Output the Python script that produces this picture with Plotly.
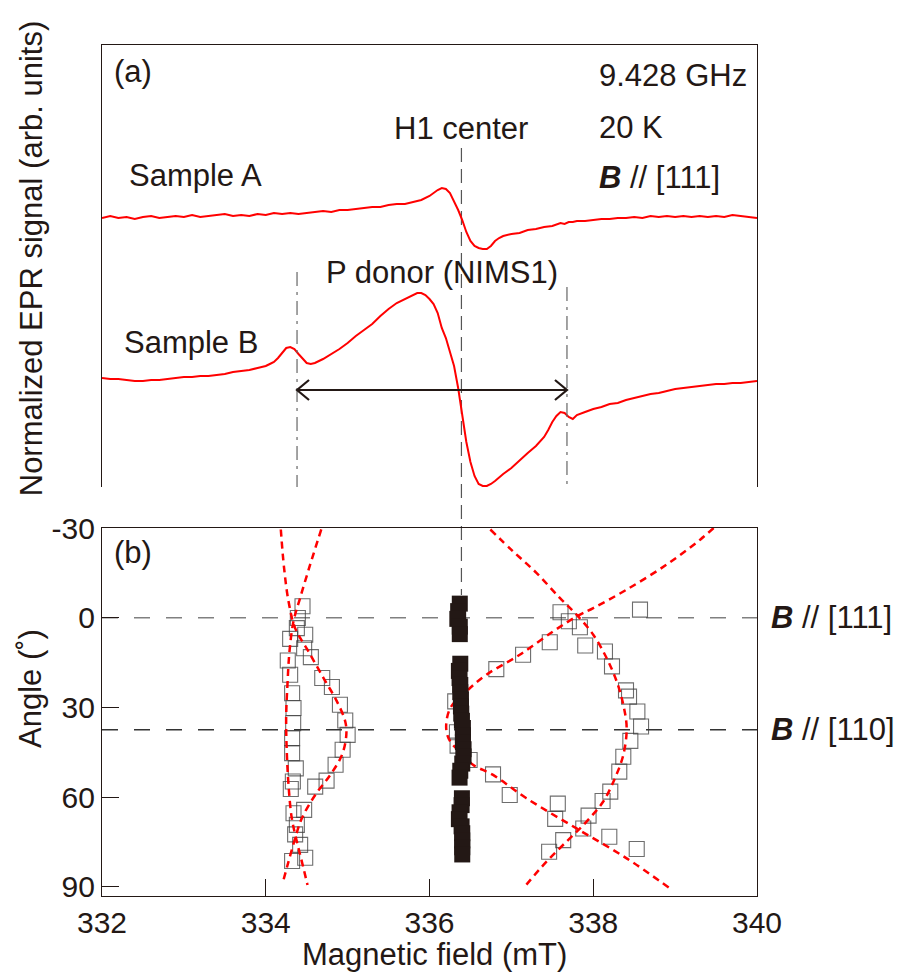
import plotly.graph_objects as go

# ---------------- DATA ----------------
# Panel (a): EPR spectra (field in mT, signal in arb. units incl. vertical offset)
field_A = [332.0, 332.1, 332.2, 332.3, 332.4, 332.5, 332.6, 332.7, 332.8, 332.9,
           333.0, 333.1, 333.2, 333.3, 333.4, 333.5, 333.6, 333.7, 333.8, 333.9,
           334.0, 334.1, 334.2, 334.3, 334.4, 334.5, 334.6, 334.7, 334.8, 334.9,
           335.0, 335.1, 335.2, 335.3, 335.4, 335.5, 335.6, 335.7, 335.8, 335.9,
           336.0, 336.05, 336.1, 336.15, 336.2, 336.25, 336.3, 336.35, 336.4, 336.45,
           336.5, 336.55, 336.6, 336.65, 336.7, 336.75, 336.8, 336.85, 336.9,
           337.0, 337.1, 337.2, 337.3, 337.4, 337.5, 337.6, 337.65, 337.7, 337.75, 337.8, 337.9,
           338.0, 338.1, 338.2, 338.3, 338.4, 338.5, 338.6, 338.7, 338.8, 338.9,
           339.0, 339.1, 339.2, 339.3, 339.4, 339.5, 339.6, 339.7, 339.8, 339.9, 340.0]
signal_A = [26.9, 27.1, 26.9, 27.0, 26.8, 27.0, 27.1, 26.9, 27.0, 27.1,
            27.0, 27.2, 27.0, 27.1, 27.2, 27.3, 27.1, 27.2, 27.1, 27.3,
            27.2, 27.4, 27.3, 27.4, 27.3, 27.4, 27.5, 27.6, 27.5, 27.7,
            27.7, 27.8, 27.9, 28.0, 28.0, 28.2, 28.3, 28.3, 28.5, 28.7,
            29.1, 29.4, 29.7, 29.9, 29.8, 29.4, 28.6, 27.7, 26.7, 25.5,
            24.6, 24.1, 23.9, 23.8, 23.8, 24.1, 24.6, 24.9, 25.1,
            25.3, 25.4, 25.7, 25.8, 26.0, 26.1, 26.4, 26.3, 26.5, 26.5, 26.6, 26.6,
            26.7, 26.8, 26.8, 26.9, 26.9, 27.0, 26.9, 27.1, 27.0, 27.1,
            27.0, 27.1, 27.0, 27.1, 27.0, 27.1, 27.0, 27.2, 27.1, 27.0, 26.9]

field_B = [332.0, 332.1, 332.2, 332.3, 332.4, 332.5, 332.6, 332.7, 332.8, 332.9,
           333.0, 333.1, 333.2, 333.3, 333.4, 333.5, 333.6, 333.7, 333.8, 333.9,
           334.0, 334.05, 334.1, 334.15, 334.2, 334.25, 334.3, 334.35, 334.4, 334.45,
           334.5, 334.55, 334.6,
           334.7, 334.8, 334.9, 335.0, 335.1, 335.2, 335.3, 335.4, 335.5, 335.6, 335.7, 335.8,
           335.85, 335.9, 335.95,
           336.0, 336.05, 336.1, 336.15, 336.2, 336.25, 336.3, 336.35, 336.4, 336.45,
           336.5, 336.55, 336.6, 336.65, 336.7, 336.75, 336.8, 336.85, 336.9,
           337.0, 337.1, 337.2, 337.3, 337.4,
           337.45, 337.5, 337.55, 337.6, 337.65, 337.7, 337.75, 337.8, 337.9,
           338.0, 338.1, 338.2, 338.3, 338.4, 338.5, 338.6, 338.7, 338.8, 338.9,
           339.0, 339.1, 339.2, 339.3, 339.4, 339.5, 339.6, 339.7, 339.8, 339.9, 340.0]
signal_B = [10.9, 10.8, 10.8, 10.7, 10.6, 10.6, 10.7, 10.7, 10.8, 10.9,
            11.0, 11.0, 11.1, 11.1, 11.2, 11.3, 11.5, 11.6, 11.7, 11.9,
            12.1, 12.3, 12.5, 12.9, 13.4, 13.9, 14.0, 13.8, 13.3, 12.8,
            12.4, 12.3, 12.4,
            12.8, 13.3, 13.8, 14.4, 15.1, 15.7, 16.3, 17.1, 17.8, 18.4, 18.8, 19.2,
            19.4, 19.4, 19.2,
            18.8, 18.3, 17.4, 15.9, 14.9, 13.5, 12.1, 9.9, 7.2, 4.5,
            2.5, 1.1, 0.3, 0.1, 0.1, 0.3, 0.6, 1.0, 1.3,
            1.9, 2.7, 3.4, 4.1, 5.0,
            5.7, 6.5, 7.1, 7.5, 7.4, 7.0, 6.8, 7.2, 7.5,
            7.8, 8.0, 8.3, 8.4, 8.7, 8.9, 9.1, 9.3, 9.4, 9.6,
            9.8, 9.9, 10.0, 10.1, 10.2, 10.3, 10.3, 10.4, 10.4, 10.5, 10.6]

# Panel (b): angular dependence, P donor lines (open squares)
pdonor_low_field = [334.449, 334.392, 334.380, 334.482, 334.298, 334.469, 334.551, 334.269,
                    334.298, 334.690, 334.808, 334.322, 334.906, 334.339, 334.971, 334.335,
                    335.000, 334.322, 334.939, 334.322, 334.853, 334.367, 334.743, 334.604,
                    334.331, 334.306, 334.469, 334.339, 334.380, 334.359, 334.420, 334.482, 334.322]
pdonor_low_angle = [-3.8, 0.1, 3.5, 5.7, 7.1, 10.2, 13.2, 14.3,
                    19.1, 20.2, 23.2, 25.3, 29.1, 30.2, 34.4, 35.3,
                    39.2, 40.3, 44.2, 45.3, 49.2, 50.4, 54.5, 56.5,
                    54.8, 57.3, 64.3, 65.4, 69.3, 72.5, 76.0, 80.3, 81.4]
pdonor_high_field = [338.571, 337.600, 337.702, 337.837, 337.469, 337.902, 338.143, 337.143,
                     338.229, 336.816, 338.400, 338.437, 338.539, 338.584, 338.453, 338.367,
                     338.318, 338.208, 338.114, 337.567, 336.776, 336.980, 337.535, 337.943,
                     337.878, 338.196, 337.633, 337.461, 338.531, 336.490, 336.314, 336.335, 336.343]
pdonor_high_angle = [-2.7, -1.8, 1.2, 3.2, 8.2, 9.3, 11.3, 12.4,
                     16.3, 17.2, 24.3, 26.4, 31.4, 36.4, 41.2, 46.5,
                     51.5, 58.2, 61.3, 62.2, 52.4, 59.3, 67.3, 66.2,
                     70.5, 73.3, 74.4, 78.3, 77.4, 47.6, 28.0, 38.3, 42.8]

# H1 center (filled squares)
h1_field = [336.37, 336.35, 336.34, 336.37, 336.37,
            336.376, 336.359, 336.367, 336.376, 336.376, 336.384, 336.384, 336.388, 336.396,
            336.408, 336.408, 336.408, 336.416, 336.416, 336.400, 336.376, 336.367,
            336.396, 336.392, 336.367, 336.359, 336.392, 336.400, 336.400, 336.400, 336.400]
h1_angle = [-4.7, -2.2, 0.4, 3.0, 5.5,
            15.4, 17.8, 20.2, 22.5, 24.9, 27.3, 29.7, 32.1, 34.5,
            36.9, 39.3, 41.6, 44.0, 46.4, 48.8, 51.2, 53.5,
            60.4, 62.7, 65.1, 67.4, 69.8, 72.1, 74.5, 76.8, 79.2]

# Calculated curves (red dashed)
calc_low_outer_field = [334.184, 334.224, 334.278, 334.359, 334.522, 334.706, 334.869, 334.971,
                        334.984, 334.931, 334.788, 334.604, 334.441, 334.359, 334.278, 334.216]
calc_low_outer_angle = [-29.5, -16.6, -5.5, 3.5, 11.3, 20.2, 28.0, 34.7,
                        39.2, 45.9, 52.6, 59.3, 67.1, 73.8, 81.6, 87.8]
calc_low_inner_field = [334.678, 334.543, 334.420, 334.339, 334.290, 334.265, 334.249,
                        334.257, 334.278, 334.318, 334.380, 334.441, 334.510]
calc_low_inner_angle = [-29.5, -17.8, -6.6, 1.2, 11.3, 22.4, 33.6, 44.8, 55.9, 67.1, 74.9, 81.6, 89.4]
calc_high_outer_field = [336.743, 337.020, 337.306, 337.592, 337.796, 338.000, 338.163, 338.286,
                         338.367, 338.408, 338.367, 338.265, 338.122, 337.918, 337.714, 337.429, 337.143]
calc_high_outer_angle = [-29.5, -22.2, -15.0, -6.6, -1.0, 5.7, 13.5, 21.3,
                         29.1, 37.0, 45.9, 53.7, 61.5, 68.2, 73.8, 81.6, 90.6]
calc_high_inner_field = [339.470, 339.306, 338.898, 338.408, 338.000, 337.796, 337.510, 337.102,
                         336.694, 336.449, 336.253, 336.204, 336.253, 336.416, 336.531, 336.776,
                         337.184, 337.796, 338.408, 338.939]
calc_high_inner_angle = [-30.0, -26.1, -17.8, -9.4, -3.2, -0.4, 4.6, 12.4,
                         19.1, 24.7, 30.3, 37.0, 41.4, 45.9, 49.2, 52.6,
                         60.4, 70.5, 80.5, 90.6]

x_ticks = [332, 334, 336, 338, 340]
y_ticks = [-30, 0, 30, 60, 90]
y_ticktext = ["-30", "0", "30", "60", "90"]

h1_center_field = 336.39
p_low_field = 334.382
p_high_field = 337.679
b111_angle = 0
b110_angle = 37.5

# ---------------- FIGURE ----------------
FONT = "Liberation Sans, Arial, Helvetica, sans-serif"
INK = "#231815"
RED = "#ff0000"

fig = go.Figure()

# spectra (top panel)
fig.add_trace(go.Scatter(x=field_A, y=signal_A, mode="lines", xaxis="x2", yaxis="y2",
                         line=dict(color=RED, width=2), showlegend=False))
fig.add_trace(go.Scatter(x=field_B, y=signal_B, mode="lines", xaxis="x2", yaxis="y2",
                         line=dict(color=RED, width=2), showlegend=False))

# open squares (bottom panel)
sq_style = dict(symbol="square-open", size=15, color="rgba(60,60,60,0.75)",
                line=dict(width=1.1, color="rgba(60,60,60,0.75)"))
fig.add_trace(go.Scatter(x=pdonor_low_field, y=pdonor_low_angle, mode="markers",
                         marker=sq_style, showlegend=False))
fig.add_trace(go.Scatter(x=pdonor_high_field, y=pdonor_high_angle, mode="markers",
                         marker=sq_style, showlegend=False))

# calculated curves
for fx, fy in [(calc_low_outer_field, calc_low_outer_angle),
               (calc_low_inner_field, calc_low_inner_angle),
               (calc_high_outer_field, calc_high_outer_angle),
               (calc_high_inner_field, calc_high_inner_angle)]:
    fig.add_trace(go.Scatter(x=fx, y=fy, mode="lines",
                             line=dict(color=RED, width=2.5, dash="7px,5px", shape="spline"),
                             showlegend=False))

# H1 filled squares
fig.add_trace(go.Scatter(x=h1_field, y=h1_angle, mode="markers",
                         marker=dict(symbol="square", size=16, color=INK,
                                     line=dict(width=0)),
                         showlegend=False))

# ---------------- layout ----------------
W, H = 898, 975
ML, MR, MT, MB = 102, 141, 45, 79
PH = H - MT - MB


def py(pix):
    return (H - MB - pix) / PH


top_dom = [py(487), 1.0]
bot_dom = [0.0, py(528)]

axis_common = dict(showgrid=False, zeroline=False, linecolor=INK, linewidth=1.2,
                   tickcolor=INK, tickwidth=1.2,
                   tickfont=dict(family=FONT, size=30, color=INK))

fig.update_layout(
    width=W, height=H,
    margin=dict(l=ML, r=MR, t=MT, b=MB),
    paper_bgcolor="white", plot_bgcolor="white",
    font=dict(family=FONT, size=31, color=INK),
    xaxis=dict(domain=[0, 1], anchor="y", range=[332, 340], tickvals=x_ticks,
               ticks="inside", ticklen=17, showline=True, mirror=True, **axis_common),
    yaxis=dict(domain=bot_dom, anchor="x", range=[93.1, -30], tickvals=y_ticks,
               ticktext=y_ticktext, ticks="inside", ticklen=17, showline=True,
               mirror=True, **axis_common),
    xaxis2=dict(domain=[0, 1], anchor="y2", range=[332, 340], showticklabels=False,
                ticks="", showline=True, side="top", mirror=False, **axis_common),
    yaxis2=dict(domain=top_dom, anchor="x2", range=[0, 44.2], showticklabels=False,
                ticks="", showline=True, mirror=True, **axis_common),
)

shapes = []
# H1 center vertical dashed line across both panels
shapes.append(dict(type="line", xref="x", yref="paper", x0=h1_center_field, x1=h1_center_field,
                   y0=py(148), y1=py(595), line=dict(color="#555555", width=1.2, dash="14px,7px"),
                   layer="below"))
# P donor dash-dot markers in top panel
shapes.append(dict(type="line", xref="x2", yref="y2", x0=p_low_field, x1=p_low_field,
                   y0=21.5, y1=0, line=dict(color="#666666", width=1.2,
                                            dash="14px,6px,3px,6px")))
shapes.append(dict(type="line", xref="x2", yref="y2", x0=p_high_field, x1=p_high_field,
                   y0=20.0, y1=0, line=dict(color="#666666", width=1.2,
                                            dash="14px,6px,3px,6px")))
# double arrow
arrow_y = 9.7
shapes.append(dict(type="line", xref="x2", yref="y2", x0=p_low_field, x1=p_high_field,
                   y0=arrow_y, y1=arrow_y, line=dict(color=INK, width=2.2)))
shapes.append(dict(type="path", xref="x2", yref="y2", xsizemode="pixel", ysizemode="pixel",
                   xanchor=p_low_field, yanchor=arrow_y, path="M 12,10 L 0,0 L 12,-10",
                   line=dict(color=INK, width=2.2)))
shapes.append(dict(type="path", xref="x2", yref="y2", xsizemode="pixel", ysizemode="pixel",
                   xanchor=p_high_field, yanchor=arrow_y, path="M -12,10 L 0,0 L -12,-10",
                   line=dict(color=INK, width=2.2)))
# horizontal orientation lines in bottom panel
shapes.append(dict(type="line", xref="paper", yref="y", x0=0, x1=1, y0=b111_angle, y1=b111_angle,
                   line=dict(color="#808080", width=1.4, dash="16px,16px"), layer="below"))
shapes.append(dict(type="line", xref="paper", yref="y", x0=0, x1=1, y0=b110_angle, y1=b110_angle,
                   line=dict(color="#333333", width=1.4, dash="16px,16px"), layer="below"))
fig.update_layout(shapes=shapes)

ann = []


def txt(text, x, y, xref="x2", yref="y2", xanchor="left", size=31, **kw):
    d = dict(text=text, x=x, y=y, xref=xref, yref=yref, xanchor=xanchor, yanchor="middle",
             showarrow=False, font=dict(family=FONT, size=size, color=INK))
    d.update(kw)
    ann.append(d)


txt("(a)", 332.12, 41.6)
txt("9.428 GHz", 338.04, 41.2)
txt("20 K", 338.04, 36.0)
txt("<b><i>B</i></b> // [111]", 338.04, 31.0)
txt("H1 center", 336.39, 35.9, xanchor="center")
txt("Sample A", 332.31, 31.2)
txt("P donor (NIMS1)", 336.15, 21.5, xanchor="center")
txt("Sample B", 332.24, 14.5)

txt("(b)", 332.12, -21.9, xref="x", yref="y")
txt("<b><i>B</i></b> // [111]", 1.018, b111_angle, xref="paper", yref="y")
txt("<b><i>B</i></b> // [110]", 1.018, b110_angle, xref="paper", yref="y")

# axis titles
txt("Magnetic field (mT)", 0.507, -0.069, xref="paper", yref="paper", xanchor="center")
txt("Angle (˚)", -0.11, py(688), xref="paper", yref="paper", xanchor="center", textangle=-90)
txt("Normalized EPR signal (arb. units)", -0.108, py(258), xref="paper", yref="paper",
    xanchor="center", textangle=-90)

fig.update_layout(annotations=ann)

fig.write_html("out.html")
